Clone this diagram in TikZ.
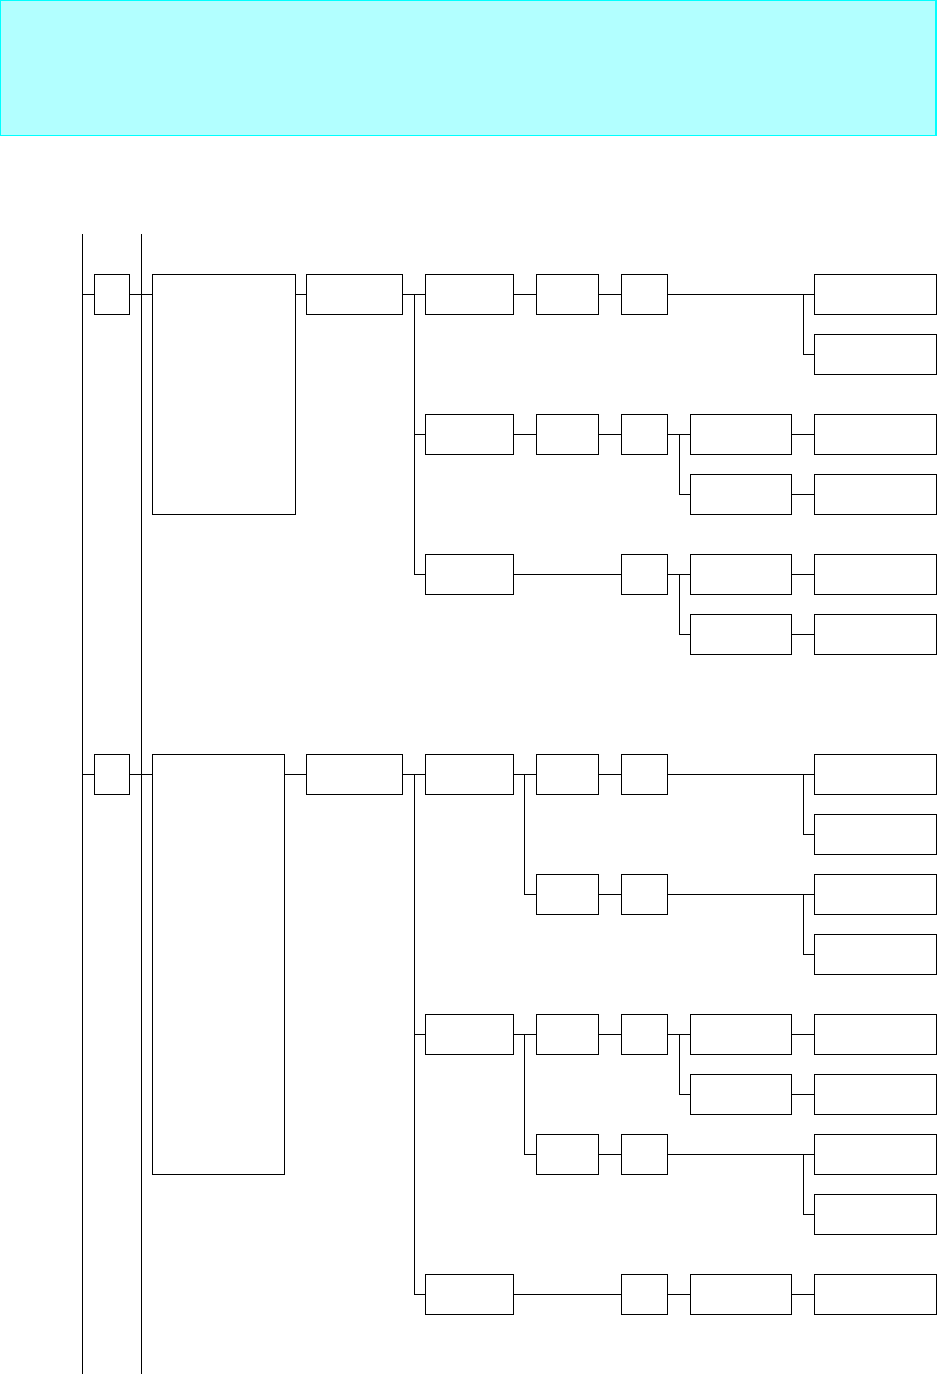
\documentclass[tikz,border=0pt]{standalone}
\usepackage{xcolor}
\definecolor{hdrfill}{RGB}{178,255,255}
\definecolor{hdrline}{RGB}{0,255,255}
\usepackage{tikz}
\usetikzlibrary{positioning, calc}

\tikzset{
  blk/.style={draw, line width=1pt, inner sep=0pt, minimum height=40pt},
  boxA/.style={blk, minimum width=35pt},
  boxB/.style={blk, minimum width=96pt},
  boxC/.style={blk, minimum width=88.2pt},
  boxD/.style={blk, minimum width=62.4pt},
  boxE/.style={blk, minimum width=46.2pt},
  boxM/.style={blk, minimum width=101.4pt},
  boxR/.style={blk, minimum width=122.4pt},
  link/.style={line width=1pt}
}

\begin{document}
\begin{tikzpicture}[x=1pt, y=-1pt]
  \useasboundingbox (0,0) rectangle (937,1374);

  % Header band
  \node[draw=hdrline, fill=hdrfill, line width=1.5pt, inner sep=0pt,
        minimum width=935.5pt, minimum height=135pt] (header) at (468.4,68.2) {};

  % Rails
  \coordinate (rail1top) at (82.3,234);
  \coordinate (rail1bot) at (82.3,1374);
  \coordinate (rail2top) at (141.3,234);
  \coordinate (rail2bot) at (141.3,1374);
  \draw[link] (rail1top) -- (rail1bot);
  \draw[link] (rail2top) -- (rail2bot);

  % --- Upper group ---
  \node[boxA] (a1) at (111.8,294.3) {};
  \node[blk, minimum width=143.4pt, minimum height=240pt] (tall1) at (224,394.3) {};
  \node[boxB] (b1) at (354.3,294.3) {};

  \node[boxC] (c11) at (469.4,294.3) {};
  \node[boxD] (d11) at (567.5,294.3) {};
  \node[boxE] (e11) at (644.4,294.3) {};
  \node[boxR] (r11) at (875.5,294.3) {};
  \node[boxR] (r12) at (875.5,354.3) {};

  \node[boxC] (c12) at (469.4,434.3) {};
  \node[boxD] (d12) at (567.5,434.3) {};
  \node[boxE] (e12) at (644.4,434.3) {};
  \node[boxM] (m11) at (741,434.3) {};
  \node[boxR] (r13) at (875.5,434.3) {};
  \node[boxM] (m12) at (741,494.3) {};
  \node[boxR] (r14) at (875.5,494.3) {};

  \node[boxC] (c13) at (469.4,574.3) {};
  \node[boxE] (e13) at (644.4,574.3) {};
  \node[boxM] (m13) at (741,574.3) {};
  \node[boxR] (r15) at (875.5,574.3) {};
  \node[boxM] (m14) at (741,634.3) {};
  \node[boxR] (r16) at (875.5,634.3) {};

  \coordinate (j1) at (414.3,294.3);
  \coordinate (k11) at (803.7,294.3);
  \coordinate (n12) at (679.3,434.3);
  \coordinate (n13) at (679.3,574.3);

  \draw[link] (a1.west -| rail1top) -- (a1.west);
  \draw[link] (a1.east) -- (a1.east -| tall1.west);
  \draw[link] (b1.west -| tall1.east) -- (b1.west);
  \draw[link] (b1.east) -- (c11.west);
  \draw[link] (j1) |- (c12.west);
  \draw[link] (j1) |- (c13.west);

  \draw[link] (c11.east) -- (d11.west);
  \draw[link] (d11.east) -- (e11.west);
  \draw[link] (e11.east) -- (r11.west);
  \draw[link] (k11) |- (r12.west);

  \draw[link] (c12.east) -- (d12.west);
  \draw[link] (d12.east) -- (e12.west);
  \draw[link] (e12.east) -- (m11.west);
  \draw[link] (n12) |- (m12.west);
  \draw[link] (m11.east) -- (r13.west);
  \draw[link] (m12.east) -- (r14.west);

  \draw[link] (c13.east) -- (e13.west);
  \draw[link] (e13.east) -- (m13.west);
  \draw[link] (n13) |- (m14.west);
  \draw[link] (m13.east) -- (r15.west);
  \draw[link] (m14.east) -- (r16.west);

  % --- Lower group ---
  \node[boxA] (a2) at (111.8,774.3) {};
  \node[blk, minimum width=132pt, minimum height=420pt] (tall2) at (218.3,964.3) {};
  \node[boxB] (b2) at (354.3,774.3) {};

  \node[boxC] (c21) at (469.4,774.3) {};
  \node[boxD] (d21) at (567.5,774.3) {};
  \node[boxE] (e21) at (644.4,774.3) {};
  \node[boxR] (r21) at (875.5,774.3) {};
  \node[boxR] (r22) at (875.5,834.3) {};

  \node[boxD] (d22) at (567.5,894.3) {};
  \node[boxE] (e22) at (644.4,894.3) {};
  \node[boxR] (r23) at (875.5,894.3) {};
  \node[boxR] (r24) at (875.5,954.3) {};

  \node[boxC] (c22) at (469.4,1034.3) {};
  \node[boxD] (d23) at (567.5,1034.3) {};
  \node[boxE] (e23) at (644.4,1034.3) {};
  \node[boxM] (m21) at (741,1034.3) {};
  \node[boxR] (r25) at (875.5,1034.3) {};
  \node[boxM] (m22) at (741,1094.3) {};
  \node[boxR] (r26) at (875.5,1094.3) {};

  \node[boxD] (d24) at (567.5,1154.3) {};
  \node[boxE] (e24) at (644.4,1154.3) {};
  \node[boxR] (r27) at (875.5,1154.3) {};
  \node[boxR] (r28) at (875.5,1214.3) {};

  \node[boxC] (c23) at (469.4,1294.3) {};
  \node[boxE] (e25) at (644.4,1294.3) {};
  \node[boxM] (m23) at (741,1294.3) {};
  \node[boxR] (r29) at (875.5,1294.3) {};

  \coordinate (j2) at (414.3,774.3);
  \coordinate (g21) at (524.3,774.3);
  \coordinate (g22) at (524.3,1034.3);
  \coordinate (k21) at (803.7,774.3);
  \coordinate (k22) at (803.7,894.3);
  \coordinate (k23) at (803.7,1154.3);
  \coordinate (n21) at (679.3,1034.3);

  \draw[link] (a2.west -| rail1top) -- (a2.west);
  \draw[link] (a2.east) -- (a2.east -| tall2.west);
  \draw[link] (b2.west -| tall2.east) -- (b2.west);
  \draw[link] (b2.east) -- (c21.west);
  \draw[link] (j2) |- (c22.west);
  \draw[link] (j2) |- (c23.west);

  \draw[link] (c21.east) -- (d21.west);
  \draw[link] (g21) |- (d22.west);
  \draw[link] (d21.east) -- (e21.west);
  \draw[link] (e21.east) -- (r21.west);
  \draw[link] (k21) |- (r22.west);
  \draw[link] (d22.east) -- (e22.west);
  \draw[link] (e22.east) -- (r23.west);
  \draw[link] (k22) |- (r24.west);

  \draw[link] (c22.east) -- (d23.west);
  \draw[link] (g22) |- (d24.west);
  \draw[link] (d23.east) -- (e23.west);
  \draw[link] (e23.east) -- (m21.west);
  \draw[link] (n21) |- (m22.west);
  \draw[link] (m21.east) -- (r25.west);
  \draw[link] (m22.east) -- (r26.west);
  \draw[link] (d24.east) -- (e24.west);
  \draw[link] (e24.east) -- (r27.west);
  \draw[link] (k23) |- (r28.west);

  \draw[link] (c23.east) -- (e25.west);
  \draw[link] (e25.east) -- (m23.west);
  \draw[link] (m23.east) -- (r29.west);
\end{tikzpicture}
\end{document}
